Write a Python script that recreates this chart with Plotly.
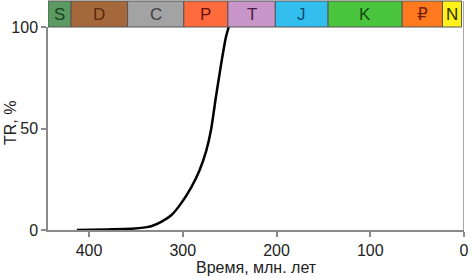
import plotly.graph_objects as go

# Curve data (time in Ma, TR %)
time_ma = [413, 380, 355, 340, 333, 323, 312, 302, 291, 282, 275, 270, 264.5, 259, 254, 251]
tr_pct = [0, 0.3, 0.6, 1.3, 2, 4, 7.4, 13, 21, 29.6, 39, 49, 66, 82, 95, 100]

# Geologic periods
period_labels = ["S", "D", "C", "P", "T", "J", "K", "₽", "N"]
period_start = [443.8, 419.2, 358.9, 298.9, 251.9, 201.3, 145.0, 66.0, 23.0]
period_end = [419.2, 358.9, 298.9, 251.9, 201.3, 145.0, 66.0, 23.0, 2.6]
period_fill = ["#5B9B62", "#A5683A", "#A3A3A3", "#FF6B3D", "#C896C8",
               "#33BEF0", "#4CC53E", "#FF7A1E", "#FFF21A"]
period_text = ["#1C4020", "#5A2A10", "#404040", "#6A1010", "#4A1A4A",
               "#104A70", "#104A10", "#7A2010", "#303000"]

x_ticks = [400, 300, 200, 100, 0]
y_ticks = [0, 50, 100]

fig = go.Figure()
fig.add_trace(go.Scatter(
    x=time_ma, y=tr_pct, mode="lines",
    line=dict(color="black", width=2.5, shape="spline", smoothing=0.6),
    showlegend=False, hoverinfo="skip",
))

bar_y0, bar_y1 = 1.0, 1.128
for lab, s, e, fc, tc in zip(period_labels, period_start, period_end, period_fill, period_text):
    fig.add_shape(type="rect", xref="x", yref="paper", x0=s, x1=e, y0=bar_y0, y1=bar_y1,
                  fillcolor=fc, line=dict(color="#555555", width=1), layer="above")
    fig.add_annotation(x=(s + e) / 2, xref="x", y=(bar_y0 + bar_y1) / 2, yref="paper",
                       xanchor="center", yanchor="middle",
                       text=lab, showarrow=False,
                       font=dict(family="Liberation Sans, DejaVu Sans, Arial", size=17, color=tc))
# right border line at x=0
fig.add_shape(type="line", xref="x", yref="paper", x0=0, x1=0, y0=0, y1=bar_y1,
              line=dict(color="#8A8A8A", width=1.5), layer="above")

font = dict(family="Liberation Sans, Arial", size=16, color="#222222")
title_font = dict(family="Liberation Sans, Arial", size=16, color="#222222")

# axis titles
fig.add_annotation(text="TR, %", xref="paper", yref="paper", x=0, y=0.527,
                   xanchor="center", yanchor="middle", xshift=-38, textangle=-90,
                   showarrow=False, font=title_font)
fig.add_annotation(text="Время, млн. лет", xref="paper", yref="paper", x=0.5, y=0,
                   xanchor="center", yanchor="middle", yshift=-37,
                   showarrow=False, font=title_font)

fig.update_layout(
    width=473, height=278,
    margin=dict(l=48, r=9, t=27, b=48),
    paper_bgcolor="white", plot_bgcolor="white",
    font=font,
    xaxis=dict(range=[443.8, 0], tickvals=x_ticks, ticks="outside", ticklen=5,
               tickcolor="#8A8A8A", tickwidth=1.5, automargin=False,
               showline=True, linecolor="#8A8A8A", linewidth=1.5,
               showgrid=False, zeroline=False, tickfont=font),
    yaxis=dict(range=[0, 100], tickvals=y_ticks, ticks="outside", ticklen=5,
               tickcolor="#8A8A8A", tickwidth=1.5, automargin=False,
               showline=True, linecolor="#8A8A8A", linewidth=1.5,
               showgrid=False, zeroline=False, tickfont=font),
)

fig.write_html("out.html", config={"displayModeBar": False},
               post_script="document.body.style.margin='0';")
